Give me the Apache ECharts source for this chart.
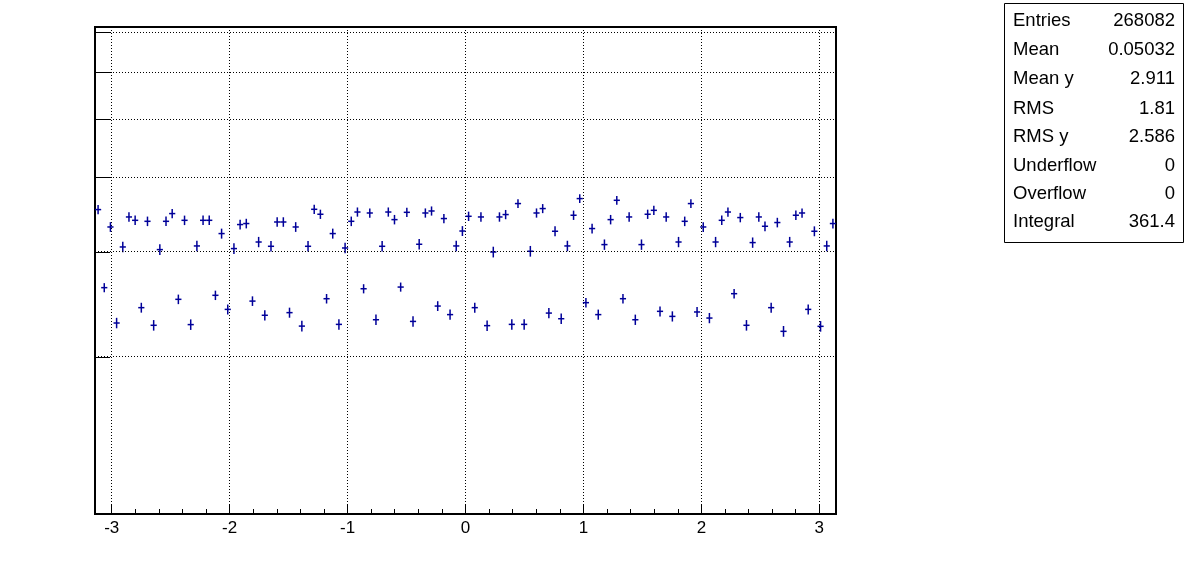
<!DOCTYPE html>
<html><head><meta charset="utf-8">
<script src="https://cdn.jsdelivr.net/npm/echarts@6/dist/echarts.min.js"></script>
<style>html,body{margin:0;padding:0;background:#fff}#c{width:1196px;height:572px}</style>
</head><body><div id="c"></div>
<script>
// ---- data ----
const X_MIN = -Math.PI, X_MAX = Math.PI, N_BINS = 120;
const yValues = [
  3.529, 2.611, 3.300, 2.278, 3.055, 3.430, 3.386, 2.417, 3.373, 2.258, 3.024, 3.373,
  3.475, 2.496, 3.386, 2.264, 3.067, 3.386, 3.386, 2.535, 3.217, 2.401, 3.036, 3.331,
  3.344, 2.479, 3.114, 2.347, 3.063, 3.364, 3.364, 2.371, 3.300, 2.251, 3.063, 3.533,
  3.466, 2.502, 3.217, 2.266, 3.043, 3.373, 3.496, 2.600, 3.483, 2.307, 3.063, 3.496,
  3.395, 2.617, 3.492, 2.292, 3.087, 3.483, 3.510, 2.432, 3.409, 2.353, 3.067, 3.249,
  3.439, 2.417, 3.430, 2.255, 2.996, 3.430, 3.462, 2.266, 3.612, 2.266, 3.005, 3.483,
  3.543, 2.367, 3.246, 2.316, 3.067, 3.453, 3.682, 2.464, 3.280, 2.353, 3.083, 3.395,
  3.658, 2.502, 3.430, 2.307, 3.083, 3.466, 3.519, 2.383, 3.430, 2.337, 3.114, 3.373,
  3.612, 2.377, 3.300, 2.322, 3.114, 3.386, 3.496, 2.551, 3.422, 2.258, 3.107, 3.430,
  3.309, 2.417, 3.357, 2.206, 3.114, 3.453, 3.483, 2.401, 3.246, 2.249, 3.067, 3.344
];
const yErrors = [
  0.062, 0.046, 0.062, 0.046, 0.062, 0.062, 0.062, 0.046, 0.062, 0.046, 0.062, 0.062,
  0.062, 0.046, 0.062, 0.046, 0.062, 0.062, 0.062, 0.046, 0.062, 0.046, 0.062, 0.062,
  0.062, 0.046, 0.062, 0.046, 0.062, 0.062, 0.062, 0.046, 0.062, 0.046, 0.062, 0.062,
  0.062, 0.046, 0.062, 0.046, 0.062, 0.062, 0.062, 0.046, 0.062, 0.046, 0.062, 0.062,
  0.062, 0.046, 0.062, 0.046, 0.062, 0.062, 0.062, 0.046, 0.062, 0.046, 0.062, 0.062,
  0.062, 0.046, 0.062, 0.046, 0.062, 0.062, 0.062, 0.046, 0.062, 0.046, 0.062, 0.062,
  0.062, 0.046, 0.062, 0.046, 0.062, 0.062, 0.062, 0.046, 0.062, 0.046, 0.062, 0.062,
  0.062, 0.046, 0.062, 0.046, 0.062, 0.062, 0.062, 0.046, 0.062, 0.046, 0.062, 0.062,
  0.062, 0.046, 0.062, 0.046, 0.062, 0.062, 0.062, 0.046, 0.062, 0.046, 0.062, 0.062,
  0.062, 0.046, 0.062, 0.046, 0.062, 0.062, 0.062, 0.046, 0.062, 0.046, 0.062, 0.062
];
const yTickValues = [2, 3, 4, 5, 6, 7];
const yRange = [1.09, 7.14];
const statLabels = ['Entries', 'Mean', 'Mean y', 'RMS', 'RMS y', 'Underflow', 'Overflow', 'Integral'];
const statValues = ['268082', '0.05032', '2.911', '1.81', '2.586', '0', '0', '361.4'];

// ---- build ----
const FONT = '"Liberation Sans", Arial, Helvetica, sans-serif';
const MARK = '#000099';
const binWidth = (X_MAX - X_MIN) / N_BINS;
const points = yValues.map((v, i) => [X_MIN + (i + 0.5) * binWidth, v, yErrors[i]]);

const chart = echarts.init(document.getElementById('c'), null, {renderer: 'canvas'});

const statRowY = [20.5, 50, 78.5, 108.5, 137, 165.5, 194, 222];
const graphics = [{
  type: 'rect', shape: {x: 1004.5, y: 3.5, width: 179, height: 239},
  style: {fill: '#fff', stroke: '#000', lineWidth: 1}
}];
statLabels.forEach((t, i) => {
  graphics.push({type: 'text', x: 1013, y: statRowY[i],
    style: {text: t, font: '18.5px ' + FONT, fill: '#000', textAlign: 'left', textVerticalAlign: 'middle'}});
  graphics.push({type: 'text', x: 1175, y: statRowY[i],
    style: {text: statValues[i], font: '18.5px ' + FONT, fill: '#000', textAlign: 'right', textVerticalAlign: 'middle'}});
});

chart.setOption({
  animation: false,
  backgroundColor: '#fff',
  grid: {left: 95, right: 360, top: 27, bottom: 58, show: true, borderColor: '#000', borderWidth: 2, backgroundColor: 'transparent'},
  xAxis: {
    type: 'value', min: X_MIN, max: X_MAX, splitNumber: 6,
    axisLine: {show: true, onZero: false, lineStyle: {color: '#000', width: 2}},
    axisTick: {show: true, inside: true, length: 10, lineStyle: {color: '#000', width: 1}},
    minorTick: {show: true, splitNumber: 5, length: 5, lineStyle: {color: '#000', width: 1}},
    splitLine: {show: true, lineStyle: {color: '#000', width: 1, type: [1, 2]}},
    axisLabel: {show: true, color: '#000', fontSize: 17, fontFamily: FONT, margin: 6, showMinLabel: false, showMaxLabel: false,
      formatter: v => String(Math.round(v))}
  },
  yAxis: {
    type: 'log', logBase: 10, min: yRange[0], max: yRange[1],
    axisLine: {show: true, onZero: false, lineStyle: {color: '#000', width: 2}},
    axisTick: {show: false}, axisLabel: {show: false}, splitLine: {show: false}
  },
  graphic: graphics,
  series: [
    {
      type: 'custom', name: 'yticks', silent: true, clip: false,
      data: yTickValues.map(v => [X_MIN, v]),
      renderItem: (params, api) => {
        const p = api.coord([api.value(0), api.value(1)]);
        const y = Math.round(p[1]) + 0.5;
        return {type: 'line', shape: {x1: p[0], y1: y, x2: p[0] + 15, y2: y},
          style: {stroke: '#000', lineWidth: 1}};
      },
      markLine: {
        silent: true, symbol: 'none', label: {show: false}, animation: false,
        lineStyle: {color: '#000', width: 1, type: [1, 2]},
        data: yTickValues.map(v => ({yAxis: v}))
      }
    },
    {
      type: 'custom', name: 'h', silent: true,
      data: points,
      renderItem: (params, api) => {
        const x = api.value(0), y = api.value(1), e = api.value(2);
        const l = api.coord([x - binWidth / 2, y]);
        const r = api.coord([x + binWidth / 2, y]);
        const t = api.coord([x, y + e]);
        const b = api.coord([x, y - e]);
        const cy = l[1];
        const cx = t[0];
        return {type: 'group', children: [
          {type: 'line', shape: {x1: l[0], y1: cy, x2: r[0], y2: cy}, style: {stroke: MARK, lineWidth: 1.5}},
          {type: 'line', shape: {x1: cx, y1: t[1], x2: cx, y2: b[1]}, style: {stroke: MARK, lineWidth: 1.5}}
        ]};
      }
    }
  ]
});
</script>
</body></html>
